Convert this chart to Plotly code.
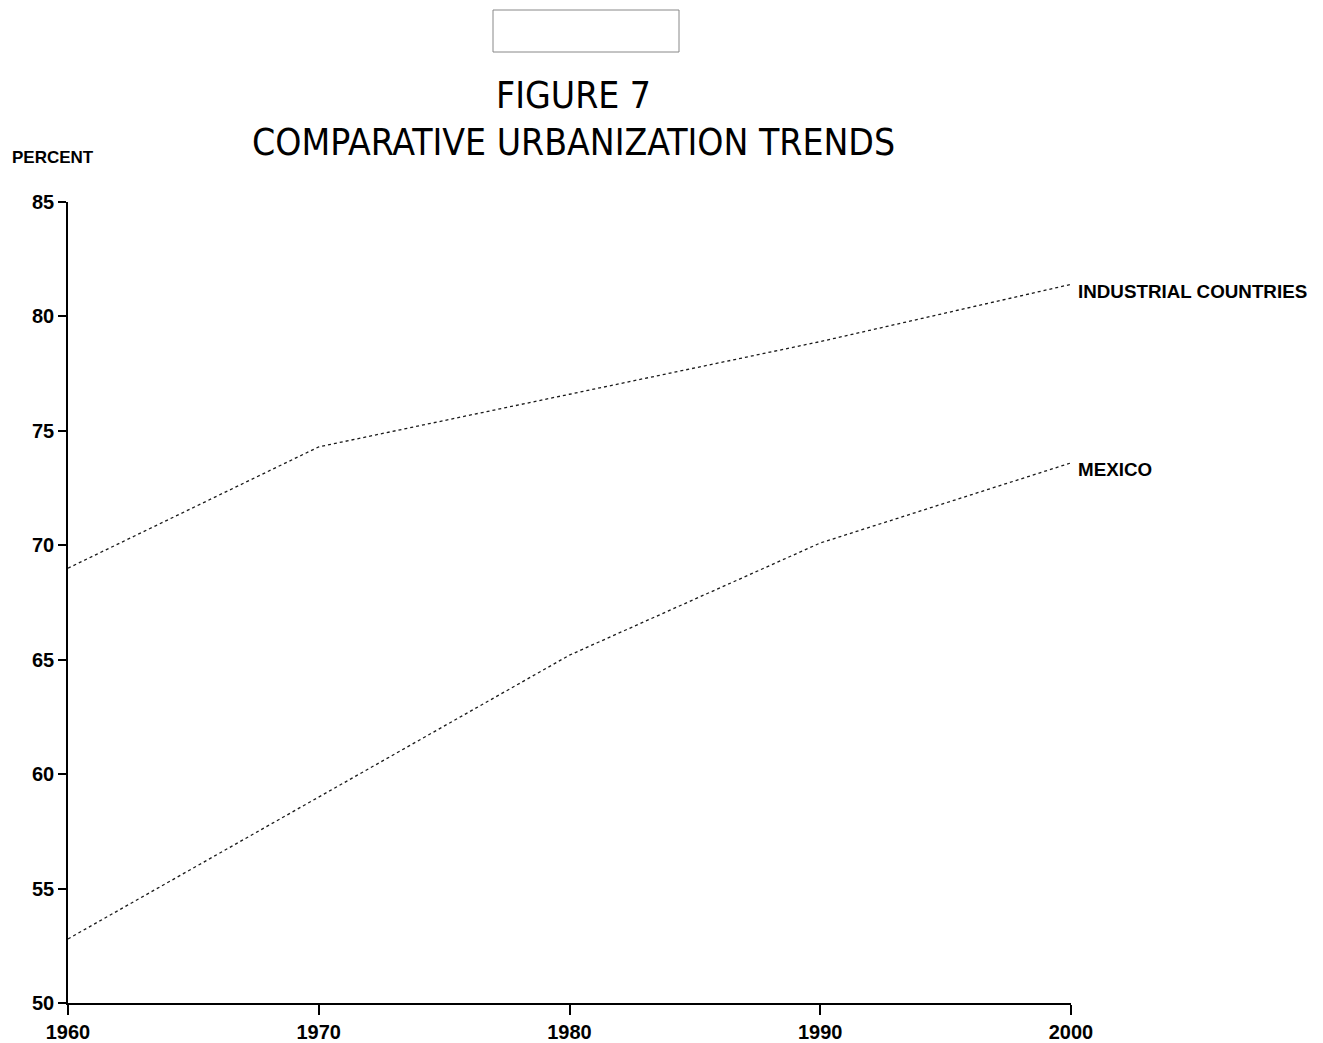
import plotly.graph_objects as go

years = [1960, 1970, 1980, 1990, 2000]
industrial = [69.0, 74.3, 76.6, 78.9, 81.4]
mexico = [52.8, 59.0, 65.2, 70.1, 73.6]
series_names = ["INDUSTRIAL COUNTRIES", "MEXICO"]
x_ticks = [1960, 1970, 1980, 1990, 2000]
y_ticks = [50, 55, 60, 65, 70, 75, 80, 85]

# page offset of the plotted html (body margin)
OX, OY = 7, 8
W, H = 1323 - OX, 1043 - OY
L, R, T, B = 67, 1070, 202, 1003
pw, ph = R - L, B - T

def px(xp):
    return (xp - L) / pw

def py(yp):
    return (B - yp) / ph

fig = go.Figure()
for name, vals in zip(series_names, [industrial, mexico]):
    fig.add_trace(go.Scatter(
        x=years, y=vals, mode="lines", name=name,
        line=dict(color="#1a1a1a", width=1.3, dash="3px,3px"),
        showlegend=False, hoverinfo="skip",
    ))
    fig.add_annotation(
        x=years[-1], y=vals[-1], xref="x", yref="y",
        text=f"<b>{name}</b>", showarrow=False, xanchor="left", yanchor="middle",
        xshift=5, yshift=-7,
        font=dict(family="Liberation Sans, Arial, sans-serif", size=18.8, color="black"),
    )

tickfont = dict(family="Liberation Sans, Arial, sans-serif", size=20, color="black")

fig.update_xaxes(
    range=[1960, 2000], tickvals=x_ticks, ticktext=[f"<b>{v}</b>" for v in x_ticks],
    showgrid=False, zeroline=False, showline=True, linecolor="black", linewidth=1.5,
    ticks="outside", ticklen=10, tickwidth=1.5, tickcolor="black", tickfont=tickfont,
    automargin=False,
)
fig.update_yaxes(
    range=[50, 85], tickvals=y_ticks, ticktext=[f"<b>{v}</b>" for v in y_ticks],
    showgrid=False, zeroline=False, showline=True, linecolor="black", linewidth=1.5,
    ticks="outside", ticklen=8, tickwidth=1.5, tickcolor="black", tickfont=tickfont,
    automargin=False,
)

title_font = dict(family="Liberation Sans Narrow, DejaVu Sans Condensed, Liberation Sans, sans-serif",
                  size=37, color="black")
fig.add_annotation(x=px(572), y=py(96), xref="paper", yref="paper", text="FIGURE 7",
                   showarrow=False, xanchor="center", yanchor="middle", font=title_font)
fig.add_annotation(x=px(572), y=py(142), xref="paper", yref="paper",
                   text="COMPARATIVE URBANIZATION TRENDS",
                   showarrow=False, xanchor="center", yanchor="middle", font=title_font)
fig.add_annotation(x=px(9), y=py(157), xref="paper", yref="paper", text="<b>PERCENT</b>",
                   showarrow=False, xanchor="left", yanchor="middle",
                   font=dict(family="Liberation Sans, Arial, sans-serif", size=17, color="black"))

fig.add_shape(type="rect", xref="paper", yref="paper",
              x0=px(492), x1=px(678), y0=py(52), y1=py(10),
              line=dict(color="#888888", width=1), fillcolor="white")

fig.update_layout(
    width=W, height=H,
    margin=dict(l=L - OX, r=1323 - R, t=T - OY, b=1043 - B, autoexpand=False),
    paper_bgcolor="white", plot_bgcolor="white",
)

fig.write_html("out.html")
